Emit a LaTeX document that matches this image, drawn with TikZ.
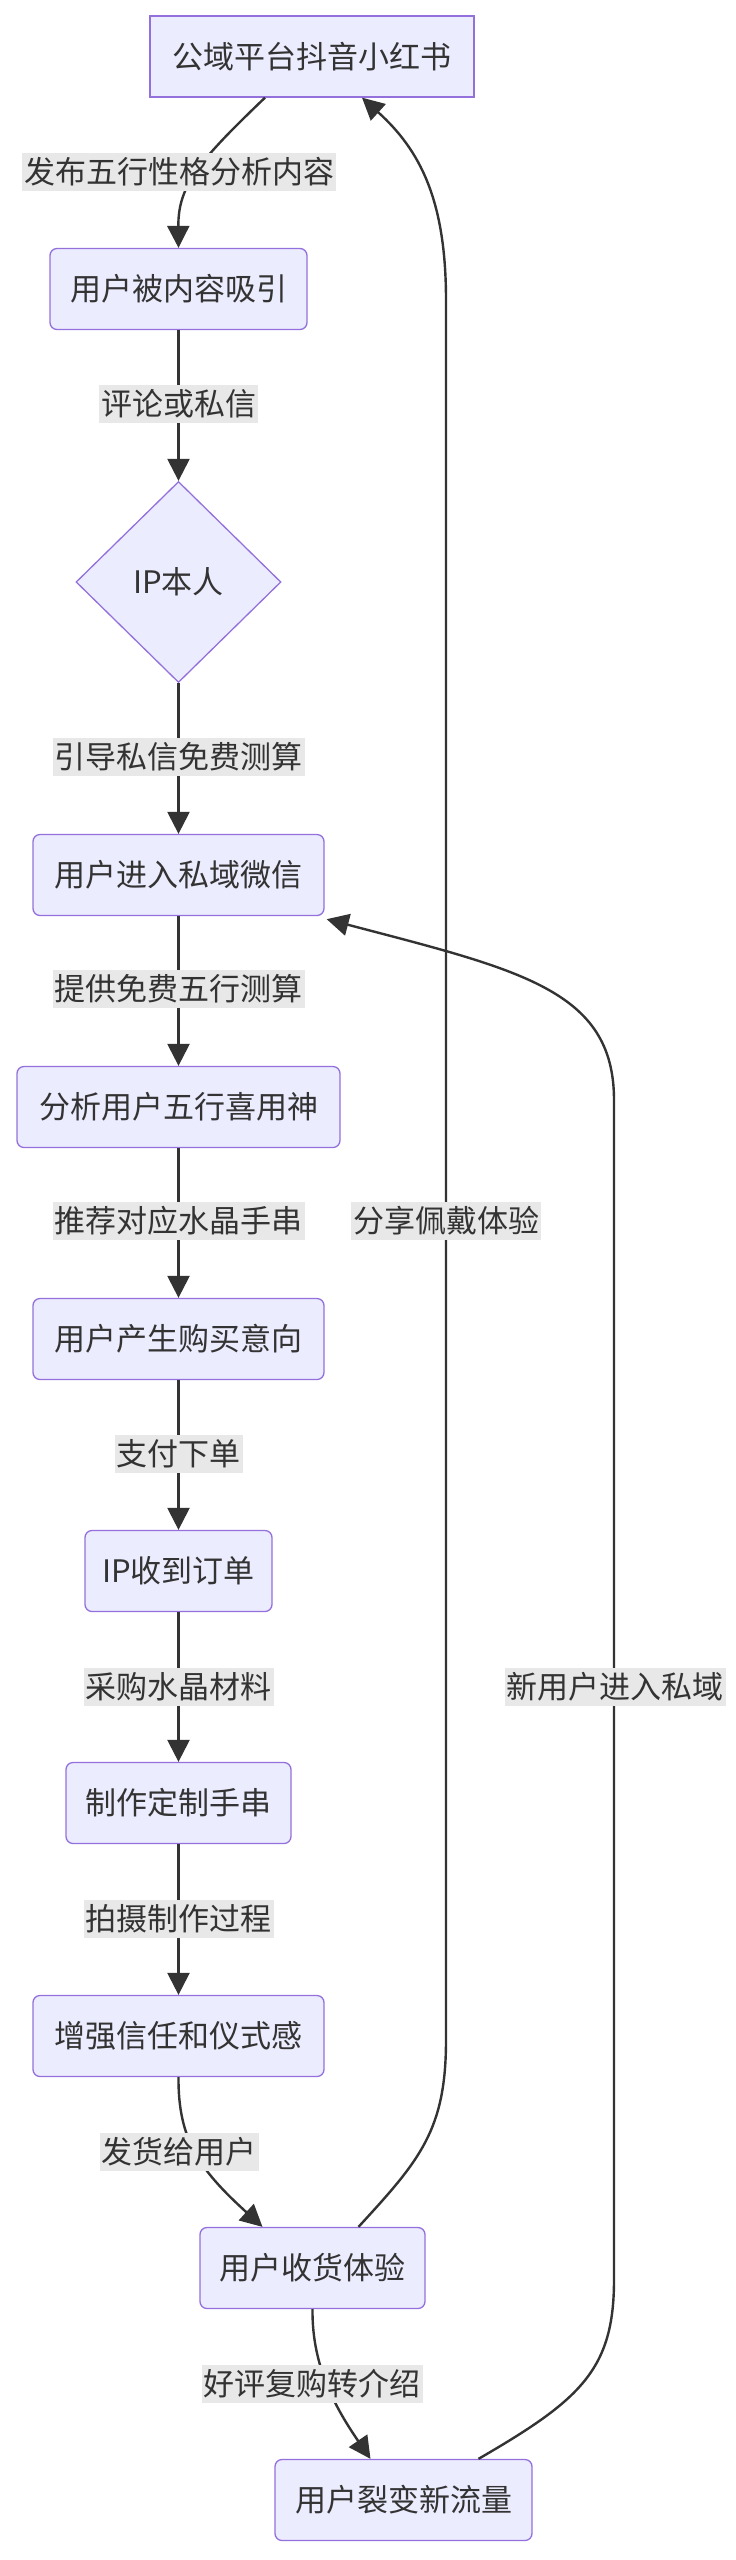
\documentclass[tikz,border=0pt]{standalone}
\usepackage{fontspec}
\setmainfont{Noto Sans CJK SC}
\usetikzlibrary{shapes.geometric,arrows.meta,calc}
\definecolor{nfill}{HTML}{ECECFF}
\definecolor{nstroke}{HTML}{9370DB}
\definecolor{ln}{HTML}{333333}
\definecolor{lbg}{HTML}{E8E8E8}
\begin{document}
\begin{tikzpicture}[x=1pt,y=-1pt,
  box/.style={draw=nstroke,fill=nfill,line width=1.3pt,rounded corners=7pt,minimum height=81pt,inner sep=0pt,text=ln,font=\fontsize{31}{36}\selectfont},
  lbl/.style={fill=lbg,text=ln,inner sep=2pt,minimum height=38pt,font=\fontsize{31}{36}\selectfont},
  edge/.style={draw=ln,line width=2.4pt,-{Triangle[length=22pt,width=22pt]}}]
\useasboundingbox (0,0) rectangle (736,2560);
\node[box,rounded corners=0pt,minimum width=324pt] (b1) at (312,56.5) {公域平台抖音小红书};
\node[box,minimum width=257pt] (b2) at (178.5,289) {用户被内容吸引};
\node[draw=nstroke,fill=nfill,line width=1.3pt,shape=diamond,minimum width=205pt,minimum height=201pt,inner sep=0pt,text=ln,font=\fontsize{31}{36}\selectfont] (d) at (178.5,582) {IP本人};
\node[box,minimum width=291pt] (b3) at (178.5,875) {用户进入私域微信};
\node[box,minimum width=323pt] (b4) at (178.5,1107) {分析用户五行喜用神};
\node[box,minimum width=291pt] (b5) at (178.5,1339) {用户产生购买意向};
\node[box,minimum width=187pt] (b6) at (178.5,1571) {IP收到订单};
\node[box,minimum width=225pt] (b7) at (178.5,1803) {制作定制手串};
\node[box,minimum width=291pt] (b8) at (178.5,2036) {增强信任和仪式感};
\node[box,minimum width=225pt] (b9) at (312.5,2268) {用户收货体验};
\node[box,minimum width=257pt] (b10) at (403.5,2500) {用户裂变新流量};

\draw[edge] ([xshift=-47pt]b1.south) .. controls (200,160) and (178,185) .. (b2.north);
\draw[edge] (b2) -- (d);
\draw[edge] (d) -- (b3);
\draw[edge] (b3) -- (b4);
\draw[edge] (b4) -- (b5);
\draw[edge] (b5) -- (b6);
\draw[edge] (b6) -- (b7);
\draw[edge] (b7) -- (b8);
\draw[edge] (b8.south) .. controls (178,2140) and (200,2170) .. ([xshift=-50pt]b9.north);
\draw[edge] (b9.south) .. controls (312,2360) and (330,2400) .. ([xshift=-33pt]b10.north);
\draw[edge] ([xshift=46pt]b9.north) .. controls (420,2160) and (446,2130) .. (446,2040) -- (446,300) .. controls (446,200) and (420,150) .. ([xshift=50pt]b1.south);
\draw[edge] ([xshift=75pt]b10.north) .. controls (580,2400) and (614,2370) .. (614,2280) -- (614,1100) .. controls (614,990) and (520,970) .. ([xshift=2pt,yshift=-3pt]b3.south east);

\node[lbl] (l1) at (179,172) {发布五行性格分析内容};
\node[lbl] (l2) at (178.5,404) {评论或私信};
\node[lbl] (l3) at (178.5,757) {引导私信免费测算};
\node[lbl] (l4) at (178.5,989) {提供免费五行测算};
\node[lbl] (l5) at (178.5,1221) {推荐对应水晶手串};
\node[lbl] (l6) at (178.5,1454) {支付下单};
\node[lbl] (l7) at (178.5,1687) {采购水晶材料};
\node[lbl] (l8) at (178.5,1919) {拍摄制作过程};
\node[lbl] (l9) at (179,2152) {发货给用户};
\node[lbl] (l10) at (312,2384) {好评复购转介绍};
\node[lbl] (l11) at (446,1221) {分享佩戴体验};
\node[lbl] (l12) at (615,1687) {新用户进入私域};
\end{tikzpicture}
\end{document}
